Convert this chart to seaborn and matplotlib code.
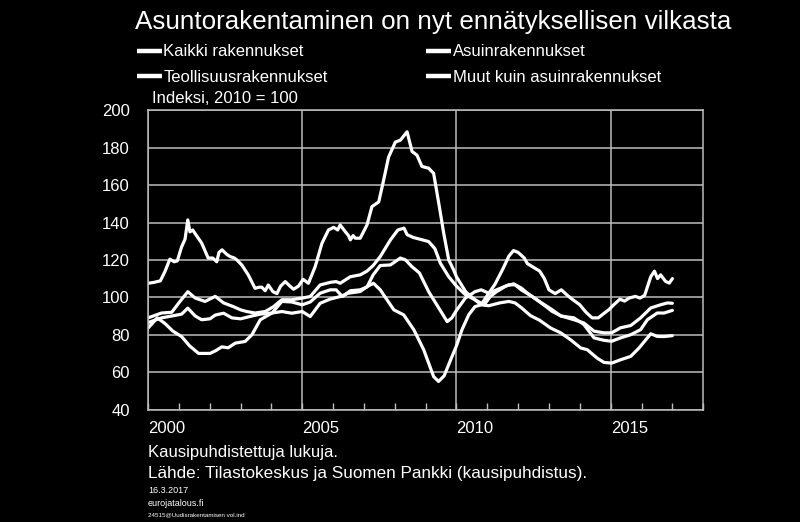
import pandas as pd
import seaborn as sns
import matplotlib.pyplot as plt
from matplotlib import font_manager
from matplotlib.ticker import MultipleLocator

# Sarjat (legendan järjestys: sarakkeittain)
sarjat = ['Kaikki rakennukset', 'Teollisuusrakennukset',
          'Asuinrakennukset', 'Muut kuin asuinrakennukset']

# Asuinrakennukset (ylin käyrä)
asuin_v = [2000.0, 2000.2, 2000.4, 2000.55, 2000.71, 2000.85, 2000.95, 2001.09, 2001.2, 2001.29,
           2001.36, 2001.45, 2001.53, 2001.74, 2001.95, 2002.1, 2002.23, 2002.3, 2002.4, 2002.55,
           2002.66, 2002.8, 2002.88, 2003.04, 2003.25, 2003.47, 2003.6, 2003.69, 2003.8, 2003.9,
           2004.05, 2004.18, 2004.3, 2004.45, 2004.6, 2004.72, 2004.88, 2005.03, 2005.2, 2005.42,
           2005.64, 2005.85, 2006.02, 2006.15, 2006.23, 2006.4, 2006.5, 2006.56, 2006.65, 2006.72,
           2006.88, 2007.1, 2007.26, 2007.48, 2007.64, 2007.8, 2008.02, 2008.18, 2008.4, 2008.56,
           2008.72, 2008.88, 2009.1, 2009.26, 2009.43, 2009.59, 2009.75, 2009.91, 2010.0, 2010.3,
           2010.5, 2010.8, 2011.0, 2011.25, 2011.5, 2011.7, 2011.85, 2012.0, 2012.2, 2012.3,
           2012.5, 2012.7, 2012.85, 2013.0, 2013.2, 2013.4, 2013.6, 2013.75, 2014.0, 2014.2,
           2014.4, 2014.6, 2014.75, 2014.95, 2015.1, 2015.3, 2015.45, 2015.6, 2015.8, 2015.95,
           2016.1, 2016.2, 2016.3, 2016.42, 2016.52, 2016.62, 2016.78, 2016.9, 2017.0]
asuin = [107.5, 108, 108.8, 113.8, 120.4, 119, 119.5, 127, 131, 141.4,
         135, 136, 134, 129, 121, 121, 119, 124, 125.4, 123,
         121.8, 121, 120, 117.3, 112, 104.8, 105.4, 105.4, 103.5, 106.6,
         103, 102, 106, 108.4, 106, 104.3, 106, 109.6, 107.5, 116.4,
         128.9, 136, 137.4, 136, 138.7, 135, 133, 130.7, 133, 131.6,
         131.6, 138.7, 148.5, 151, 162.7, 175, 183, 184, 188.5, 178,
         176, 170, 169, 166.3, 150, 134, 120, 114.6, 111, 103,
         100, 96, 101, 107, 115, 122, 125, 124, 121, 118,
         116, 114, 110, 104, 102, 104, 101, 99, 96, 92,
         89, 89, 91, 93.5, 96, 99, 98, 99.6, 100.5, 99.6,
         101, 106, 111, 114, 110, 112, 108.5, 107.6, 110]

# Kaikki rakennukset
kaikki_v = [2000.0, 2000.44, 2000.77, 2001.0, 2001.29, 2001.53, 2001.85, 2002.18, 2002.45, 2002.77,
            2003.0, 2003.2, 2003.47, 2003.8, 2004.07, 2004.34, 2004.66, 2005.0, 2005.26, 2005.58,
            2005.91, 2006.1, 2006.23, 2006.56, 2006.88, 2007.1, 2007.3, 2007.53, 2007.86, 2008.1,
            2008.3, 2008.4, 2008.6, 2008.83, 2009.1, 2009.3, 2009.48, 2009.75, 2010.0, 2010.29,
            2010.6, 2010.9, 2011.1, 2011.3, 2011.6, 2011.85, 2012.1, 2012.3, 2012.6, 2012.9,
            2013.1, 2013.4, 2013.81, 2014.13, 2014.46, 2014.78, 2015.03, 2015.32, 2015.65, 2015.97,
            2016.3, 2016.62, 2016.84, 2017.0]
kaikki = [89, 91.6, 92, 97, 103, 99.6, 97.8, 100.5, 97, 95,
          93.3, 92.4, 91.6, 92.4, 95, 98.7, 98.7, 99.6, 100.4, 106.6,
          108, 108.4, 107.5, 111, 112, 114, 117, 121.8, 130.7, 136,
          137, 133.5, 132, 131, 129.8, 126, 118.2, 111, 106, 101.4,
          98.7, 96, 100.5, 103, 106, 107.2, 105, 102.2, 98.7, 95.1,
          92.5, 90, 88, 86.3, 81.9, 81, 81, 83.7, 84.9, 89,
          94.3, 96, 97, 96.8]

# Muut kuin asuinrakennukset
muut_v = [2000.0, 2000.3, 2000.55, 2000.8, 2001.09, 2001.35, 2001.64, 2002.01, 2002.2, 2002.39,
          2002.6, 2002.83, 2003.15, 2003.37, 2003.64, 2004.02, 2004.34, 2004.66, 2005.0, 2005.26,
          2005.58, 2005.91, 2006.1, 2006.3, 2006.56, 2006.88, 2007.1, 2007.3, 2007.53, 2007.86,
          2008.18, 2008.35, 2008.55, 2008.8, 2009.1, 2009.4, 2009.7, 2009.85, 2010.0, 2010.29,
          2010.6, 2010.8, 2011.05, 2011.3, 2011.7, 2011.9, 2012.1, 2012.45, 2012.77, 2013.1,
          2013.38, 2013.81, 2014.13, 2014.46, 2014.78, 2015.03, 2015.32, 2015.65, 2015.97, 2016.19,
          2016.51, 2016.73, 2017.0]
muut = [83.5, 89, 86, 82, 79, 74, 70, 70, 71.5, 73.5,
        73, 75.5, 76.4, 80, 88, 91.6, 97.8, 97.5, 96, 97.5,
        102.2, 104, 104, 100.4, 103.5, 104, 105.5, 112, 117, 117.3,
        121, 120, 116.5, 113, 103, 95, 87, 89, 93, 99.6,
        103, 104, 102.2, 104, 106.7, 106.7, 104, 100.5, 96.9, 93.4,
        90, 89, 85.5, 78.3, 77, 76.5, 78.3, 80, 82.7, 88,
        91.6, 91.6, 93]

# Teollisuusrakennukset
teoll_v = [2000.0, 2000.44, 2000.77, 2001.09, 2001.29, 2001.53, 2001.74, 2002.01, 2002.18, 2002.45,
           2002.72, 2003.0, 2003.37, 2003.64, 2004.02, 2004.34, 2004.66, 2005.0, 2005.26, 2005.58,
           2005.9, 2006.23, 2006.5, 2006.88, 2007.1, 2007.31, 2007.53, 2007.64, 2007.97, 2008.29,
           2008.62, 2008.94, 2009.26, 2009.42, 2009.6, 2009.81, 2010.0, 2010.18, 2010.4, 2010.6,
           2010.8, 2011.05, 2011.4, 2011.7, 2011.9, 2012.1, 2012.4, 2012.7, 2013.05, 2013.38,
           2013.7, 2014.03, 2014.24, 2014.56, 2014.78, 2015.03, 2015.32, 2015.65, 2015.92, 2016.14,
           2016.3, 2016.51, 2016.73, 2017.0]
teoll = [86.5, 89, 90, 91, 94.2, 90, 88, 88.5, 90.5, 91.5,
         89, 88.5, 90, 91, 91.6, 92.4, 91.5, 92.4, 89.7, 96.8,
         99, 100.4, 102.2, 103.1, 105.7, 107.5, 104, 101.3, 93.3, 90.6,
         82.6, 71.9, 57.6, 55, 58, 66.5, 74, 82.7, 90.7, 95,
         96, 95.5, 97, 97.8, 97, 94.5, 90.2, 87.7, 83.6, 81,
         77.3, 72.9, 72, 67.5, 65.2, 64.8, 66.6, 68.4, 72.9, 77.3,
         80.5, 79.1, 79, 79.5]

# Pitkä taulukko seabornia varten
osat = [
    pd.DataFrame({'vuosi': kaikki_v, 'indeksi': kaikki, 'sarja': 'Kaikki rakennukset'}),
    pd.DataFrame({'vuosi': asuin_v, 'indeksi': asuin, 'sarja': 'Asuinrakennukset'}),
    pd.DataFrame({'vuosi': teoll_v, 'indeksi': teoll, 'sarja': 'Teollisuusrakennukset'}),
    pd.DataFrame({'vuosi': muut_v, 'indeksi': muut, 'sarja': 'Muut kuin asuinrakennukset'}),
]
df = pd.concat(osat, ignore_index=True)

sns.set_theme(style='dark')
plt.rcParams['font.family'] = ['Liberation Sans', 'DejaVu Sans']
nimet = {f.name for f in font_manager.fontManager.ttflist}
kapea = 'Liberation Sans Narrow' if 'Liberation Sans Narrow' in nimet else 'Liberation Sans'

fig = plt.figure(figsize=(8, 5.22), dpi=100, facecolor='black')
ax = fig.add_axes([0.185, 0.2155, 0.694, 0.5732])
ax.set_facecolor('black')

sns.lineplot(data=df, x='vuosi', y='indeksi', hue='sarja', hue_order=sarjat,
             palette={s: 'white' for s in sarjat}, estimator=None, sort=False,
             linewidth=2.3, ax=ax)

ax.set_xlim(2000, 2018)
ax.set_ylim(40, 200)
ax.set_xticks([2000, 2005, 2010, 2015])
ax.xaxis.set_minor_locator(MultipleLocator(1))
ax.set_yticks(range(40, 201, 20))
ax.set_xlabel('')
ax.set_ylabel('')

harmaa = '#bdbdbd'
ax.grid(True, which='major', color=harmaa, linewidth=1.1)
for s in ax.spines.values():
    s.set_visible(True)
    s.set_color(harmaa)
    s.set_linewidth(1.1)
ax.tick_params(axis='x', which='both', direction='in', length=5, width=1, color=harmaa,
               labelcolor='white', labelsize=12, pad=8, bottom=True)
ax.tick_params(axis='y', length=0, colors='white', labelsize=12, pad=13)
for t in ax.get_xticklabels():
    t.set_horizontalalignment('left')

# Legenda kahteen sarakkeeseen
kahvat, tekstit = ax.get_legend_handles_labels()
ax.get_legend().remove()
leg = fig.legend(kahvat, tekstit, ncol=2, loc='upper left', bbox_to_anchor=(0.171, 0.915),
                 frameon=False, handlelength=1.5, handletextpad=0.1, columnspacing=5.9,
                 labelspacing=0.62, borderpad=0, borderaxespad=0,
                 prop={'family': kapea, 'size': 12})
for h in leg.get_lines():
    h.set_linewidth(3.2)
    h.set_solid_capstyle('butt')
for t in leg.get_texts():
    t.set_color('white')

fig.text(0.541, 0.957, 'Asuntorakentaminen on nyt ennätyksellisen vilkasta', color='white',
         ha='center', va='center', fontsize=18.7, family=kapea)
fig.text(0.19, 0.812, 'Indeksi, 2010 = 100', color='white', ha='left', va='center',
         fontsize=12, family=kapea)

fig.text(0.185, 0.134, 'Kausipuhdistettuja lukuja.', color='white', ha='left', va='center', fontsize=12)
fig.text(0.185, 0.092, 'Lähde: Tilastokeskus ja Suomen Pankki (kausipuhdistus).', color='white',
         ha='left', va='center', fontsize=12.3)
fig.text(0.185, 0.061, '16.3.2017', color='white', ha='left', va='center', fontsize=6.5)
fig.text(0.185, 0.036, 'eurojatalous.fi', color='white', ha='left', va='center', fontsize=6.5)
fig.text(0.185, 0.013, '24515@Uudisrakentamisen vol.ind', color='white', ha='left', va='center',
         fontsize=4.5)

plt.savefig('out.png', dpi=100, facecolor='black')
